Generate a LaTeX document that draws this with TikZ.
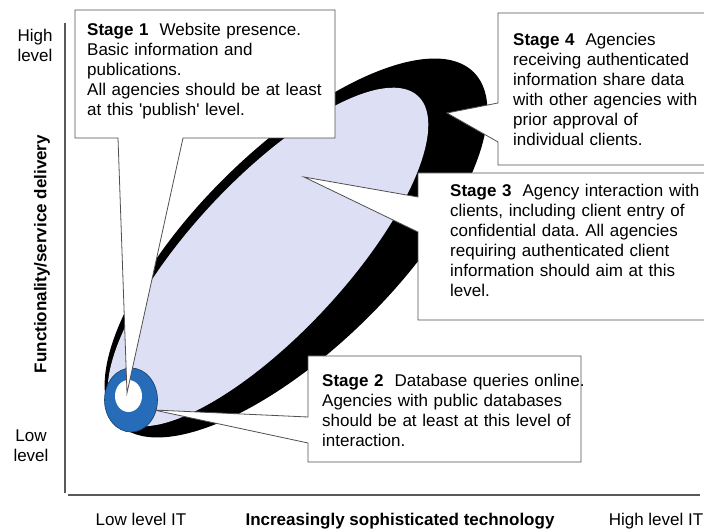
\documentclass[tikz,border=0pt]{standalone}
\usepackage{fontspec}
\setmainfont{Liberation Sans}
\usetikzlibrary{positioning}
\definecolor{lavender}{RGB}{221,223,244}
\definecolor{ringblue}{RGB}{38,108,184}
\definecolor{edgegray}{RGB}{80,80,80}
\frenchspacing

\tikzset{
  callout/.style={draw=edgegray, fill=white, line width=0.8pt, line join=miter},
  stagetext/.style={anchor=base west, inner sep=0pt, text width=#1, align=left, font=\fontsize{17}{20}\selectfont},
  axislabel/.style={inner sep=0pt, align=center, font=\fontsize{17}{20}\selectfont},
  axisline/.style={draw=black!65, line width=1.2pt}
}

\begin{document}
\begin{tikzpicture}[x=1pt,y=1pt]
\useasboundingbox (0,0) rectangle (704,530);
%============ axes
\coordinate (Ytop) at (65,507);
\coordinate (Ybot) at (65,37);
\coordinate (Xleft) at (68,35);
\coordinate (Xright) at (700,35);
            \draw[axisline] (Ytop) -- (Ybot);
            \draw[axisline] (Xleft) -- (Xright);
%============ oval and ring
\fill[black] (296,282) ellipse [x radius=250pt, y radius=100pt, rotate=44.6];
\fill[lavender] (268,273) ellipse [x radius=220pt, y radius=77pt, rotate=47];
\filldraw[fill=ringblue, draw=ringblue!60!black, line width=0.6pt] (131,130) ellipse [x radius=26.5pt, y radius=32pt];
\fill[white] (128.5,134) ellipse [x radius=13.5pt, y radius=16pt];
%============ callouts
            \draw[callout] (75,520) -- (335,520) -- (335,392) -- (183,392) -- (127,137) -- (118,392) -- (75,392) -- cycle;
            \draw[callout] (498,517) -- (705,517) -- (705,365) -- (498,365) -- (498,388) -- (447,417) -- (498,427) -- cycle;
            \draw[callout] (418,357) -- (705,357) -- (705,210) -- (418,210) -- (418,298) -- (304,353) -- (418,333) -- cycle;
            \draw[callout] (308,174) -- (581,174) -- (581,68) -- (308,68) -- (308,87) -- (154,120) -- (308,113) -- cycle;
%============ stage texts
\node[stagetext=280pt] (S1) at (87,494) {\textbf{Stage 1}\hspace{11pt}Website presence.\\ Basic information and\\ publications.\\ All agencies should be at least\\ at this \textquotesingle publish\textquotesingle\ level.};
\node[stagetext=280pt] (S4) at (513,484) {\textbf{Stage 4}\hspace{11pt}Agencies\\ receiving authenticated\\ information share data\\ with other agencies with\\ prior approval of\\ individual clients.};
\node[stagetext=280pt] (S3) at (450,333) {\textbf{Stage 3}\hspace{11pt}Agency interaction with\\ clients, including client entry of\\ confidential data. All agencies\\ requiring authenticated client\\ information should aim at this\\ level.};
\node[stagetext=280pt] (S2) at (322,143) {\textbf{Stage 2}\hspace{11pt}Database queries online.\\ Agencies with public databases\\ should be at least at this level of\\ interaction.};
%============ axis labels
\node[axislabel] (HL) at (35,485) {High\\ level};
\node[axislabel] (LL) at (31,84) {Low\\ level};
\node[axislabel, rotate=90, font=\fontsize{17}{20}\selectfont\bfseries] (FS) at (42,276) {Functionality/service delivery};
\node[axislabel, anchor=base] (LIT) at (141,4.5) {Low level IT};
\node[axislabel, anchor=base, font=\fontsize{17}{20}\selectfont\bfseries] (IST) at (400,4.5) {Increasingly sophisticated technology};
\node[axislabel, anchor=base] (HIT) at (656,4.5) {High level IT};
\end{tikzpicture}
\end{document}
